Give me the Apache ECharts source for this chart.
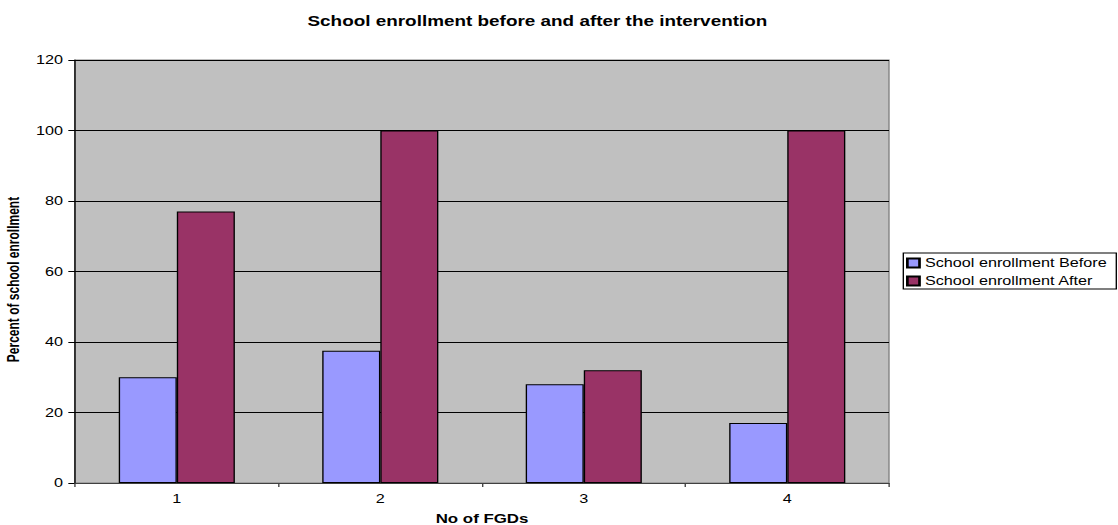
<!DOCTYPE html>
<html>
<head>
<meta charset="utf-8">
<script src="https://cdn.jsdelivr.net/npm/echarts@6/dist/echarts.min.js"></script>
<style>
  html, body { margin: 0; padding: 0; background: #fff; overflow: hidden; }
  /* the chart is laid out on a narrower canvas and widened to the page,
     which gives the text its broad, stretched look */
  #chart {
    width: 828px;
    height: 525px;
    transform: scaleX(1.35024);
    transform-origin: 0 0;
  }
</style>
</head>
<body>
<div id="chart"></div>
<script>
// FGD groups on the x axis
const categories = ['1', '2', '3', '4'];
// Percent of school enrollment per FGD
const enrollmentBefore = [30, 37.5, 28, 17];
const enrollmentAfter = [77, 100, 32, 100];
const seriesNames = ['School enrollment Before', 'School enrollment After'];

const font = 'Liberation Sans, Arial, sans-serif';
const chart = echarts.init(document.getElementById('chart'), null, { renderer: 'svg' });

chart.setOption({
  animation: false,
  backgroundColor: '#ffffff',
  title: {
    text: 'School enrollment before and after the intervention',
    left: 393,
    textAlign: 'center',
    top: 9,
    textStyle: { fontFamily: font, fontSize: 14, fontWeight: 'bold', color: '#000' }
  },
  legend: {
    orient: 'vertical',
    left: 669,
    top: 253,
    itemWidth: 9,
    itemHeight: 9,
    itemGap: 6,
    padding: [4, 7, 2, 2],
    borderColor: '#000',
    borderWidth: 1,
    borderRadius: 0,
    icon: 'rect',
    textStyle: { fontFamily: font, fontSize: 12, color: '#000', padding: [0, 0, 0, -1] },
    data: seriesNames
  },
  grid: {
    left: 55.6,
    right: 169.6,
    top: 60,
    bottom: 42,
    outerBoundsMode: 'none',
    containLabel: false,
    show: true,
    backgroundColor: '#c0c0c0',
    borderColor: '#808080',
    borderWidth: 1
  },
  xAxis: {
    type: 'category',
    data: categories,
    name: 'No of FGDs',
    nameLocation: 'middle',
    nameGap: 29,
    nameTextStyle: { fontFamily: font, fontSize: 12.5, fontWeight: 'bold', color: '#000' },
    axisLine: { lineStyle: { color: '#404040', width: 1 } },
    axisTick: { show: true, length: 4, lineStyle: { color: '#404040' } },
    axisLabel: { fontFamily: font, fontSize: 12, color: '#000', margin: 10 },
    splitLine: { show: false }
  },
  yAxis: {
    type: 'value',
    min: 0,
    max: 120,
    interval: 20,
    name: 'Percent of school enrollment',
    nameLocation: 'middle',
    nameGap: 38,
    nameRotate: 90,
    nameTextStyle: { fontFamily: font, fontSize: 12, fontWeight: 'bold', color: '#000', padding: [0, 16, 0, 0] },
    axisLine: { show: true, lineStyle: { color: '#000', width: 1 } },
    axisTick: { show: true, length: 5, lineStyle: { color: '#000' } },
    axisLabel: { fontFamily: font, fontSize: 12, color: '#000', margin: 9 },
    splitLine: { show: true, lineStyle: { color: '#000', width: 1 } }
  },
  series: [
    {
      name: seriesNames[0],
      type: 'bar',
      data: enrollmentBefore,
      barWidth: 43,
      barGap: '0%',
      itemStyle: { color: '#9999ff', borderColor: '#000', borderWidth: 1 }
    },
    {
      name: seriesNames[1],
      type: 'bar',
      data: enrollmentAfter,
      barWidth: 43,
      barGap: '0%',
      itemStyle: { color: '#993366', borderColor: '#000', borderWidth: 1 }
    }
  ]
});
</script>
</body>
</html>
